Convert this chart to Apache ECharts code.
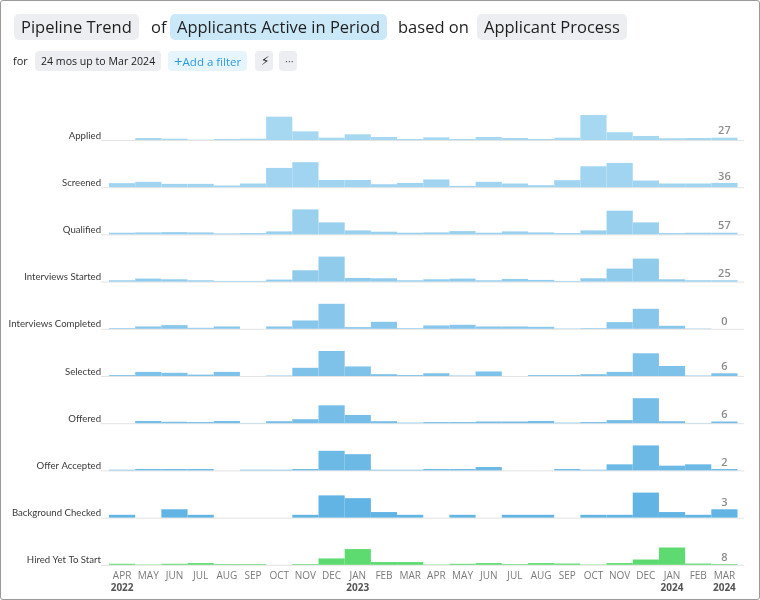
<!DOCTYPE html>
<html>
<head>
<meta charset="utf-8">
<script src="https://cdn.jsdelivr.net/npm/echarts@6/dist/echarts.min.js"></script>
<style>
  html,body{margin:0;padding:0;background:#fff;}
  #frame{position:absolute;left:0;top:0;width:760px;height:600px;box-sizing:border-box;border:1px solid #9a9a9a;border-radius:3px;overflow:hidden;font-family:"Open Sans","Noto Sans",sans-serif;}
  #chart{position:absolute;left:0;top:0;width:760px;height:600px;}
  .pill{position:absolute;top:13px;height:26px;line-height:26px;border-radius:5px;background:#eceef1;padding:0 7px;font-size:16.5px;color:#1f1f1f;white-space:nowrap;}
  .word{position:absolute;top:13px;height:26px;line-height:26px;font-size:16.5px;color:#1f1f1f;white-space:nowrap;}
  .sp{position:absolute;top:50px;height:20px;line-height:20px;border-radius:4px;background:#eceef1;padding:0 6px;font-size:10.6px;color:#222;white-space:nowrap;}
</style>
</head>
<body>
<div id="frame">
  <div id="chart"></div>
  <div class="pill" style="left:13px;">Pipeline Trend</div>
  <div class="word" style="left:150px;">of</div>
  <div class="pill" style="left:169px;background:#cbe8f8;">Applicants Active in Period</div>
  <div class="word" style="left:397px;">based on</div>
  <div class="pill" style="left:476px;">Applicant Process</div>
  <div class="word" style="left:12px;top:50px;height:20px;line-height:20px;font-size:11px;">for</div>
  <div class="sp" style="left:34px;">24 mos up to Mar 2024</div>
  <div class="sp" style="left:167px;background:#e6f4fc;color:#2b9be0;font-size:11.5px;padding:0 6px 0 6px;"><span style="font-size:15px;vertical-align:-1px;">+</span>Add a filter</div>
  <div class="sp" style="left:254px;width:6px;text-align:center;font-size:12px;">&#x26A1;&#xFE0E;</div>
  <div class="sp" style="left:278px;width:6px;text-align:center;font-size:11px;color:#555;">&middot;&middot;&middot;</div>
</div>
<script>
const months = ['APR','MAY','JUN','JUL','AUG','SEP','OCT','NOV','DEC','JAN','FEB','MAR',
                'APR','MAY','JUN','JUL','AUG','SEP','OCT','NOV','DEC','JAN','FEB','MAR'];
const years  = ['2022','','','','','','','','','2023','','',
                '','','','','','','','','','2024','','2024'];
const stages = ['Applied','Screened','Qualified','Interviews Started','Interviews Completed',
                'Selected','Offered','Offer Accepted','Background Checked','Hired Yet To Start'];

const applied     = [0,23,15,4,12,15,270,100,27,66,35,12,31,12,35,23,12,27,289,90,47,20,23,27];
const screened    = [34,45,28,28,14,31,162,210,61,61,25,36,65,11,45,31,17,59,176,204,56,31,31,36];
const qualified   = [57,68,78,68,34,44,102,850,408,136,92,57,68,112,57,102,68,44,136,806,408,44,57,57];
const intStarted  = [25,57,44,25,13,13,38,215,475,70,63,25,44,57,25,51,32,13,63,247,437,44,25,25];
const intCompleted= [2,7,11,3,7,0,7,25,75,5,21,2,10,12,7,7,6,1,2,20,60,9,1,0];
const selected    = [2,9,7,3,9,0,1,18,55,21,4,2,6,1,10,0,2,2,4,9,50,22,1,6];
const offered     = [0,8,5,4,8,1,7,14,63,29,7,2,4,4,6,6,8,2,4,11,88,7,1,6];
const offerAccepted=[1,2,2,2,0,1,1,2,29,24,1,1,2,2,5,0,0,2,1,9,37,7,9,2];
const bgChecked   = [1,0,3,1,0,0,0,1,8,7,2,1,0,1,0,1,1,0,1,1,9,2,1,3];
const hired       = [11,4,11,19,8,8,0,8,70,173,30,30,4,11,19,8,19,14,4,19,58,190,14,8];

const seriesData = [applied,screened,qualified,intStarted,intCompleted,selected,offered,offerAccepted,bgChecked,hired];
const colors = ['#a7d8f1','#a0d4f0','#98d0ee','#90cbec','#88c7eb','#7fc2e9','#76bee8','#6cb9e6','#61b4e4','#5ddb70'];

const chart = echarts.init(document.getElementById('chart'), null, {renderer:'canvas'});
const FONT = '"Open Sans","Noto Sans",sans-serif';
const LFONT = 'Lato,"Open Sans",sans-serif';
const firstBase = 139, step = 47.2, rowH = 25;
const gridLeft = 108, gridRight = 23.5;

const grids = [], xAxes = [], yAxes = [], series = [], graphics = [];
stages.forEach((name, i) => {
  const base = firstBase + i * step;
  grids.push({left: gridLeft, right: gridRight, top: base - rowH, height: rowH});
  const last = i === stages.length - 1;
  xAxes.push({
    type: 'category', gridIndex: i, data: months, boundaryGap: true,
    axisLine: {show: false}, axisTick: {show: false}, splitLine: {show: false},
    axisLabel: last ? {
      show: true, interval: 0, margin: 6, color: '#7a7a7a', fontSize: 10, fontFamily: FONT,
      lineHeight: 11,
      formatter: (v, idx) => years[idx] ? v + '\n{y|' + years[idx] + '}' : v,
      rich: {y: {fontWeight: 'bold', color: '#555', fontSize: 10, fontFamily: FONT, lineHeight: 12}}
    } : {show: false}
  });
  const hiredRow = name === 'Hired Yet To Start';
  yAxes.push({
    type: 'value', gridIndex: i, min: 0,
    max: hiredRow ? (e => e.max * 25 / 17.3) : (e => Math.max(e.max, 1)),
    show: false, splitLine: {show: false}
  });
  const vals = seriesData[i];
  series.push({
    type: 'bar', xAxisIndex: i, yAxisIndex: i, barCategoryGap: '0%', barGap: '0%',
    itemStyle: {color: colors[i]},
    silent: true,
    data: vals.map((v, k) => k === vals.length - 1 ? {value: v, label: {show: true}} : v),
    label: {show: false, position: 'top', distance: 1, color: '#8c8c8c', fontSize: 11,
            fontWeight: 600, fontFamily: FONT}
  });
  graphics.push({
    type: 'line', z: 0, silent: true,
    shape: {x1: 100, y1: base + 0.5, x2: 743, y2: base + 0.5},
    style: {stroke: '#e3e3e3', lineWidth: 1}
  });
  graphics.push({
    type: 'text', z: 5, silent: true, x: 100, y: base - 4.5,
    style: {text: name, align: 'right', verticalAlign: 'middle', fill: '#3a3a3a', fontSize: 9.6, fontFamily: LFONT}
  });
});

chart.setOption({
  animation: false,
  grid: grids, xAxis: xAxes, yAxis: yAxes, series: series,
  graphic: {elements: graphics}
});
</script>
</body>
</html>
